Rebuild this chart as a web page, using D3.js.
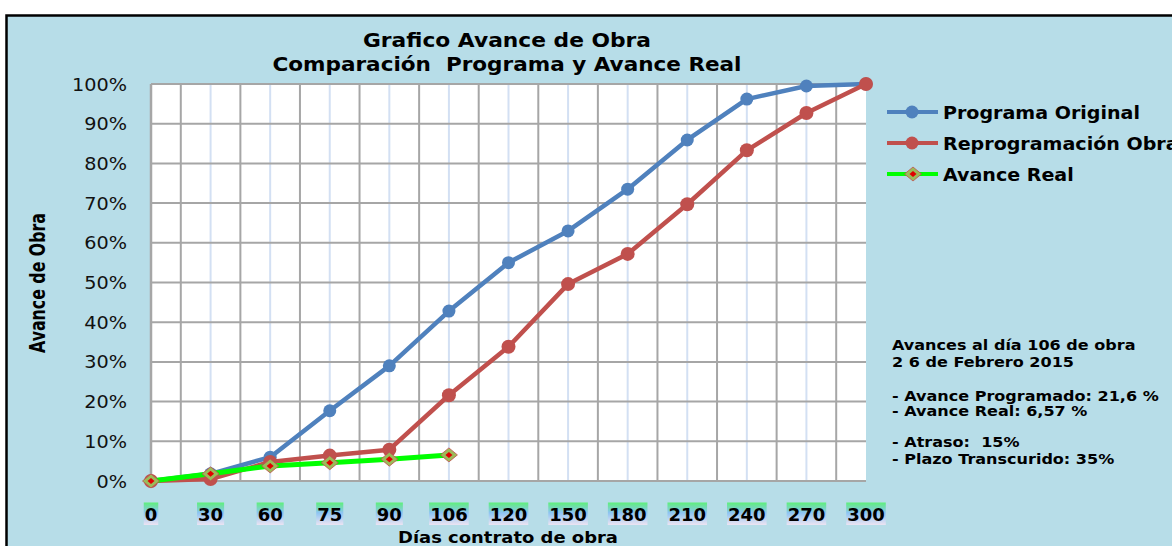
<!DOCTYPE html>
<html>
<head>
<meta charset="utf-8">
<script src="https://cdn.jsdelivr.net/npm/d3@7/dist/d3.min.js"></script>
<style>
  body { margin: 0; background: #fff; }
  svg { display: block; }
  text { font-family: 'DejaVu Sans', Verdana, sans-serif; }
</style>
</head>
<body>
<svg width="1172" height="546"></svg>
<script>
const days = ['0', '30', '60', '75', '90', '106', '120', '150', '180', '210', '240', '270', '300']
const programaOriginal = [0, 0.018, 0.06, 0.177, 0.29, 0.428, 0.55, 0.63, 0.735, 0.859, 0.962, 0.995, 1.0]
const reprogramacion = [0, 0.005, 0.048, 0.064, 0.079, 0.216, 0.338, 0.496, 0.572, 0.697, 0.833, 0.927, 1.0]
const avanceReal = [0, 0.018, 0.038, 0.046, 0.055, 0.0657]
const yTicks = [0, 0.1, 0.2, 0.3, 0.4, 0.5, 0.6, 0.7, 0.8, 0.9, 1.0]
const seriesNames = ['Programa Original', 'Reprogramación Obra', 'Avance Real']
const notes = [
  ['Avances al día 106 de obra', '2 6 de Febrero 2015'],
  ['- Avance Programado: 21,6 %', '- Avance Real: 6,57 %'],
  ['- Atraso:  15%', '- Plazo Transcurido: 35%']
]

const svg = d3.select('svg')
const plotLeft = 151
const plotRight = 866
const plotTop = 84
const plotBottom = 481

const x = d3.scalePoint().domain(days).range([plotLeft, plotRight]).padding(0)
const y = d3.scaleLinear().domain([0, 1]).range([plotBottom, plotTop])
const step = x.step()

// widen a text a bit, the original font runs wider than DejaVu
function stretch (sel, k) {
  sel.each(function () {
    const w = this.getComputedTextLength()
    d3.select(this).attr('textLength', w * k).attr('lengthAdjust', 'spacingAndGlyphs')
  })
}

const defs = svg.append('defs')
const grad = defs.append('linearGradient')
  .attr('id', 'lblGrad').attr('x1', 0).attr('y1', 0).attr('x2', 0).attr('y2', 1)
grad.append('stop').attr('offset', '0%').attr('stop-color', '#5ef07a')
grad.append('stop').attr('offset', '45%').attr('stop-color', '#8cc4f2')
grad.append('stop').attr('offset', '100%').attr('stop-color', '#ece4f2')

// chart area frame
svg.append('rect')
  .attr('x', 6.5).attr('y', 15.5)
  .attr('width', 1200).attr('height', 600)
  .attr('fill', '#b7dde8')
  .attr('stroke', '#000')
  .attr('stroke-width', 2.5)

// plot area
svg.append('rect')
  .attr('x', plotLeft).attr('y', plotTop)
  .attr('width', plotRight - plotLeft).attr('height', plotBottom - plotTop)
  .attr('fill', '#fff')

// light lines on categories
svg.append('g')
  .selectAll('line')
  .data(days.slice(1, -1))
  .join('line')
  .attr('x1', d => x(d)).attr('x2', d => x(d))
  .attr('y1', plotTop).attr('y2', plotBottom)
  .attr('stroke', '#d3e0f3')
  .attr('stroke-width', 2)

// gray lines between categories
svg.append('g')
  .selectAll('line')
  .data(days.slice(0, -1))
  .join('line')
  .attr('x1', d => x(d) + step / 2).attr('x2', d => x(d) + step / 2)
  .attr('y1', plotTop).attr('y2', plotBottom)
  .attr('stroke', '#a6a6a6')
  .attr('stroke-width', 2)

svg.append('g')
  .selectAll('line')
  .data(yTicks)
  .join('line')
  .attr('x1', plotLeft).attr('x2', plotRight)
  .attr('y1', d => y(d)).attr('y2', d => y(d))
  .attr('stroke', '#a6a6a6')
  .attr('stroke-width', 2)

svg.append('line')
  .attr('x1', plotLeft).attr('x2', plotLeft)
  .attr('y1', plotTop).attr('y2', plotBottom)
  .attr('stroke', '#a6a6a6').attr('stroke-width', 2.5)

// y axis labels
svg.append('g')
  .selectAll('text')
  .data(yTicks)
  .join('text')
  .attr('x', 127)
  .attr('y', d => y(d) + 6.5)
  .attr('text-anchor', 'end')
  .attr('font-size', 18.5)
  .attr('fill', '#111')
  .text(d => Math.round(d * 100) + '%')
  .call(stretch, 1.04)

// x axis labels with gradient boxes
const xl = svg.append('g')
  .selectAll('g')
  .data(days)
  .join('g')
xl.append('text')
  .attr('x', d => x(d))
  .attr('y', 521)
  .attr('text-anchor', 'middle')
  .attr('font-size', 18)
  .attr('font-weight', 'bold')
  .attr('fill', '#000')
  .text(d => d)
  .each(function () {
    const b = this.getBBox()
    d3.select(this.parentNode).insert('rect', 'text')
      .attr('x', b.x - 1).attr('y', 502.5)
      .attr('width', b.width + 2).attr('height', 22.5)
      .attr('fill', 'url(#lblGrad)')
  })

// titles
svg.append('text')
  .attr('x', 507).attr('y', 47)
  .attr('text-anchor', 'middle')
  .attr('font-size', 19).attr('font-weight', 'bold')
  .text('Grafico Avance de Obra')
  .attr('textLength', 288).attr('lengthAdjust', 'spacingAndGlyphs')
svg.append('text')
  .attr('x', 507).attr('y', 71)
  .attr('text-anchor', 'middle')
  .attr('font-size', 19).attr('font-weight', 'bold')
  .attr('xml:space', 'preserve')
  .text('Comparación  Programa y Avance Real')
  .attr('textLength', 469).attr('lengthAdjust', 'spacingAndGlyphs')

svg.append('text')
  .attr('transform', 'translate(45,283) rotate(-90)')
  .attr('text-anchor', 'middle')
  .attr('font-family', "'Liberation Sans Narrow', 'DejaVu Sans Condensed', sans-serif")
  .attr('font-size', 22).attr('font-weight', 'bold')
  .attr('textLength', 140).attr('lengthAdjust', 'spacingAndGlyphs')
  .text('Avance de Obra')

svg.append('text')
  .attr('x', 508).attr('y', 543)
  .attr('text-anchor', 'middle')
  .attr('font-size', 16.5).attr('font-weight', 'bold')
  .text('Días contrato de obra')
  .attr('textLength', 220).attr('lengthAdjust', 'spacingAndGlyphs')

// series
const line = d3.line().x((d, i) => x(days[i])).y(d => y(d))

svg.append('path').datum(programaOriginal)
  .attr('d', line).attr('fill', 'none')
  .attr('stroke', '#4f81bd').attr('stroke-width', 4.5).attr('stroke-linejoin', 'round')
svg.append('g').selectAll('circle').data(programaOriginal).join('circle')
  .attr('cx', (d, i) => x(days[i])).attr('cy', d => y(d)).attr('r', 6.5)
  .attr('fill', '#4f81bd')

svg.append('path').datum(reprogramacion)
  .attr('d', line).attr('fill', 'none')
  .attr('stroke', '#c0504d').attr('stroke-width', 4.5).attr('stroke-linejoin', 'round')
svg.append('g').selectAll('circle').data(reprogramacion).join('circle')
  .attr('cx', (d, i) => x(days[i])).attr('cy', d => y(d)).attr('r', 7)
  .attr('fill', '#c0504d')

svg.append('path').datum(avanceReal)
  .attr('d', line).attr('fill', 'none')
  .attr('stroke', '#00ff00').attr('stroke-width', 5).attr('stroke-linejoin', 'round')

const diamond = (g, cx, cy) => {
  g.append('path')
    .attr('d', `M${cx},${cy - 7}L${cx + 8.5},${cy}L${cx},${cy + 7}L${cx - 8.5},${cy}Z`)
    .attr('fill', '#9bbb59').attr('stroke', '#c0504d').attr('stroke-width', 0.8)
  g.append('path')
    .attr('d', `M${cx},${cy - 3}L${cx + 3.5},${cy}L${cx},${cy + 3}L${cx - 3.5},${cy}Z`)
    .attr('fill', '#e00000')
}
const dg = svg.append('g')
avanceReal.forEach((d, i) => diamond(dg, x(days[i]), y(d)))

// legend
const legColors = ['#4f81bd', '#c0504d', '#00ff00']
const legY = [112, 143, 174]
seriesNames.forEach((name, i) => {
  const g = svg.append('g')
  g.append('line')
    .attr('x1', 887).attr('x2', 938)
    .attr('y1', legY[i]).attr('y2', legY[i])
    .attr('stroke', legColors[i]).attr('stroke-width', 4)
  if (i < 2) {
    g.append('circle').attr('cx', 912).attr('cy', legY[i]).attr('r', 6.5).attr('fill', legColors[i])
  } else {
    diamond(g, 913, legY[i])
  }
  g.append('text')
    .attr('x', 943).attr('y', legY[i] + 7)
    .attr('font-size', 18.5).attr('font-weight', 'bold')
    .text(name)
    .call(stretch, 1.03)
})

// notes
const noteY = [[350, 367], [401, 416], [447, 464]]
notes.forEach((pair, i) => {
  pair.forEach((t, j) => {
    svg.append('text')
      .attr('x', 892).attr('y', noteY[i][j])
      .attr('font-size', 14).attr('font-weight', 'bold')
      .attr('xml:space', 'preserve')
      .text(t)
      .call(stretch, 1.145)
  })
})
</script>
</body>
</html>
